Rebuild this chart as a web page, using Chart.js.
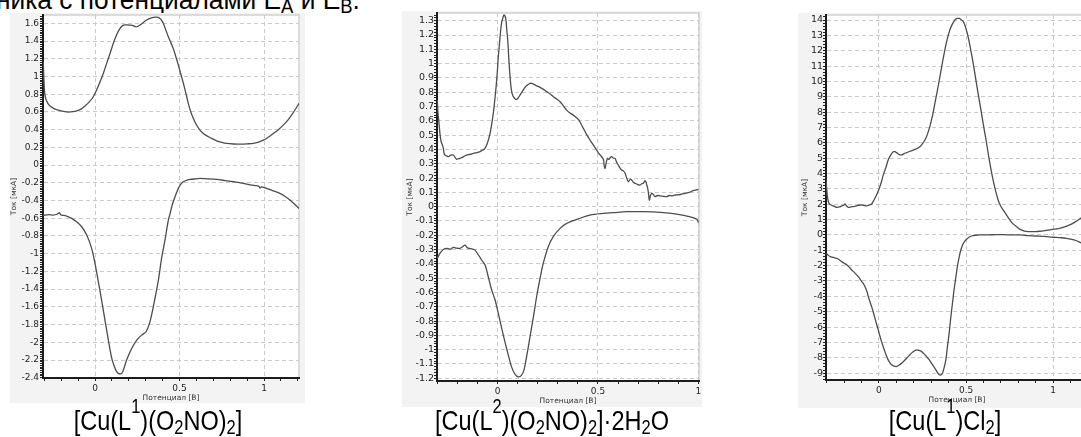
<!DOCTYPE html>
<html lang="ru"><head><meta charset="utf-8">
<title>CV</title>
<script src="https://cdn.jsdelivr.net/npm/chart.js@4.4.1/dist/chart.umd.min.js"></script>
<style>
html,body{margin:0;padding:0;background:#fff;}
body{width:1081px;height:437px;overflow:hidden;position:relative;font-family:"Liberation Sans",Arial,sans-serif;color:#000;}
.panel{position:absolute;background:#f3f3f3;}
.panel canvas{display:block;}
.txt{position:absolute;white-space:nowrap;font-size:28px;line-height:28px;transform:scaleX(0.84);}
.txt sup,.txt sub{font-size:0.7em;vertical-align:0;position:relative;line-height:0;}
.txt sup{top:-0.85em;}
.txt sub{top:0.22em;}
.cap{width:400px;text-align:center;transform-origin:50% 50%;top:407px;}
#hdr{transform:scaleX(0.94);transform-origin:0 0;}
</style></head>
<body>
<div id="hdr" class="txt" style="left:-4px;top:-14px;">ника с потенциалами E<sub>A</sub> и E<sub>B</sub>.</div>

<div class="panel" style="left:10px;top:13px;width:295px;height:390px"><canvas id="c1" width="295" height="390"></canvas></div>
<div class="panel" style="left:402px;top:11px;width:300px;height:396px"><canvas id="c2" width="300" height="396"></canvas></div>
<div class="panel" style="left:798px;top:13px;width:300px;height:395px"><canvas id="c3" width="300" height="395"></canvas></div>

<div class="txt cap" style="left:-42px">[Cu(L<sup>1</sup>)(O<sub>2</sub>NO)<sub>2</sub>]</div>
<div class="txt cap" style="left:352px">[Cu(L<sup>2</sup>)(O<sub>2</sub>NO)<sub>2</sub>]·2H<sub>2</sub>O</div>
<div class="txt cap" style="left:745px">[Cu(L<sup>1</sup>)Cl<sub>2</sub>]</div>

<script>
// ================= DATA =================
// Chart 1: [Cu(L1)(O2NO)2]  — potential (V) / current (µA)
const c1UpE = [-0.306,-0.302,-0.298,-0.292,-0.28,-0.266,-0.24,-0.217,-0.19,-0.158,-0.13,-0.108,-0.08,-0.059,-0.035,-0.01,0.01,0.03,0.05,0.069,0.09,0.108,0.128,0.148,0.168,0.19,0.207,0.225,0.243,0.266,0.286,0.306,0.325,0.345,0.36,0.375,0.39,0.404,0.42,0.434,0.448,0.463,0.478,0.493,0.508,0.523,0.538,0.552,0.567,0.582,0.6,0.621,0.645,0.671,0.695,0.72,0.75,0.779,0.82,0.858,0.9,0.937,0.968,0.996,1.025,1.055,1.085,1.114,1.14,1.163,1.186,1.207];
const c1UpI = [1.166,0.95,0.82,0.753,0.7,0.666,0.635,0.621,0.608,0.598,0.603,0.613,0.635,0.666,0.71,0.771,0.85,0.94,1.04,1.148,1.265,1.373,1.47,1.543,1.58,1.583,1.58,1.575,1.56,1.58,1.61,1.637,1.655,1.667,1.67,1.667,1.645,1.6,1.52,1.448,1.385,1.317,1.225,1.129,1.025,0.922,0.81,0.696,0.6,0.527,0.455,0.395,0.35,0.32,0.295,0.274,0.257,0.245,0.238,0.237,0.24,0.245,0.26,0.282,0.315,0.357,0.4,0.451,0.505,0.564,0.63,0.696];
const c1DnE = [-0.307,-0.296,-0.27,-0.247,-0.225,-0.211,-0.203,-0.197,-0.168,-0.138,-0.109,-0.079,-0.049,-0.02,0,0.02,0.039,0.059,0.079,0.095,0.108,0.128,0.148,0.164,0.187,0.217,0.247,0.276,0.302,0.325,0.349,0.375,0.394,0.414,0.434,0.444,0.454,0.463,0.473,0.483,0.493,0.508,0.523,0.545,0.562,0.6,0.621,0.67,0.72,0.77,0.818,0.86,0.897,0.94,0.97,0.976,0.985,1.015,1.055,1.094,1.125,1.153,1.18,1.207];
const c1DnI = [-0.57,-0.564,-0.56,-0.564,-0.555,-0.538,-0.56,-0.564,-0.575,-0.602,-0.64,-0.696,-0.79,-0.94,-1.11,-1.317,-1.524,-1.75,-1.975,-2.144,-2.238,-2.332,-2.358,-2.332,-2.2,-2.07,-1.975,-1.919,-1.881,-1.769,-1.561,-1.298,-1.053,-0.847,-0.621,-0.55,-0.47,-0.414,-0.36,-0.31,-0.263,-0.215,-0.188,-0.17,-0.162,-0.155,-0.151,-0.155,-0.162,-0.175,-0.188,-0.2,-0.214,-0.23,-0.24,-0.26,-0.245,-0.263,-0.29,-0.32,-0.355,-0.395,-0.44,-0.489];
const c1YTicks = [-2.4,-2.2,-2,-1.8,-1.6,-1.4,-1.2,-1,-0.8,-0.6,-0.4,-0.2,0,0.2,0.4,0.6,0.8,1,1.2,1.4,1.6];
const c1XTicks = [0,0.5,1];

// Chart 2: [Cu(L2)(O2NO)2]·2H2O
const c2UpE = [-0.301,-0.298,-0.294,-0.288,-0.283,-0.279,-0.271,-0.267,-0.263,-0.255,-0.246,-0.235,-0.221,-0.213,-0.205,-0.196,-0.188,-0.17,-0.155,-0.138,-0.121,-0.104,-0.088,-0.075,-0.063,-0.05,-0.038,-0.03,-0.022,-0.015,-0.008,-0.002,0.003,0.009,0.015,0.02,0.025,0.029,0.033,0.037,0.041,0.045,0.05,0.054,0.058,0.062,0.066,0.072,0.078,0.086,0.095,0.103,0.111,0.124,0.136,0.148,0.161,0.17,0.178,0.195,0.211,0.228,0.244,0.26,0.277,0.294,0.311,0.327,0.344,0.36,0.377,0.39,0.402,0.415,0.427,0.443,0.46,0.477,0.493,0.505,0.518,0.527,0.531,0.535,0.54,0.547,0.555,0.562,0.568,0.575,0.585,0.593,0.601,0.61,0.618,0.626,0.635,0.643,0.651,0.66,0.668,0.676,0.685,0.697,0.709,0.718,0.726,0.733,0.739,0.743,0.746,0.751,0.756,0.762,0.768,0.776,0.784,0.796,0.809,0.825,0.842,0.855,0.867,0.88,0.892,0.91,0.934,0.955,0.975,0.99,1.0];
const c2UpI = [0.745,0.66,0.605,0.512,0.46,0.443,0.408,0.37,0.361,0.355,0.35,0.36,0.361,0.345,0.331,0.335,0.338,0.35,0.361,0.365,0.373,0.378,0.385,0.395,0.408,0.45,0.513,0.575,0.652,0.74,0.839,0.94,1.048,1.14,1.235,1.29,1.315,1.335,1.34,1.33,1.305,1.24,1.165,1.07,0.978,0.9,0.839,0.79,0.769,0.755,0.75,0.762,0.78,0.808,0.834,0.85,0.862,0.862,0.857,0.845,0.834,0.82,0.804,0.79,0.769,0.752,0.734,0.705,0.675,0.655,0.64,0.625,0.61,0.58,0.547,0.505,0.466,0.43,0.396,0.37,0.349,0.33,0.285,0.268,0.3,0.338,0.33,0.345,0.35,0.34,0.338,0.31,0.291,0.27,0.256,0.25,0.233,0.2,0.174,0.19,0.186,0.17,0.163,0.155,0.151,0.16,0.163,0.18,0.174,0.15,0.14,0.1,0.046,0.08,0.093,0.085,0.07,0.078,0.075,0.072,0.07,0.078,0.075,0.08,0.082,0.085,0.093,0.1,0.112,0.117,0.121];
const c2DnE = [-0.301,-0.288,-0.271,-0.251,-0.236,-0.221,-0.205,-0.188,-0.175,-0.163,-0.15,-0.138,-0.125,-0.113,-0.096,-0.08,-0.063,-0.047,-0.03,-0.013,0.003,0.02,0.036,0.053,0.069,0.086,0.103,0.119,0.131,0.144,0.161,0.178,0.194,0.211,0.227,0.252,0.277,0.311,0.344,0.394,0.46,0.527,0.577,0.643,0.727,0.81,0.893,0.96,0.993,1.001];
const c2DnI = [-0.362,-0.327,-0.299,-0.292,-0.298,-0.285,-0.29,-0.292,-0.28,-0.269,-0.288,-0.292,-0.297,-0.304,-0.338,-0.373,-0.408,-0.49,-0.583,-0.653,-0.746,-0.851,-0.945,-1.038,-1.12,-1.171,-1.19,-1.178,-1.143,-1.05,-0.91,-0.77,-0.63,-0.502,-0.397,-0.28,-0.21,-0.152,-0.117,-0.089,-0.059,-0.047,-0.042,-0.035,-0.035,-0.04,-0.052,-0.071,-0.089,-0.113];
const c2YTicks = [-1.2,-1.1,-1,-0.9,-0.8,-0.7,-0.6,-0.5,-0.4,-0.3,-0.2,-0.1,0,0.1,0.2,0.3,0.4,0.5,0.6,0.7,0.8,0.9,1,1.1,1.2,1.3];
const c2XTicks = [0,0.5,1];

// Chart 3: [Cu(L1)Cl2]
const c3UpE = [-0.304,-0.3,-0.296,-0.291,-0.287,-0.275,-0.262,-0.243,-0.228,-0.214,-0.2,-0.195,-0.186,-0.176,-0.16,-0.147,-0.128,-0.109,-0.09,-0.071,-0.055,-0.042,-0.032,-0.023,-0.01,0.002,0.015,0.025,0.04,0.053,0.068,0.082,0.092,0.101,0.115,0.13,0.145,0.159,0.178,0.197,0.217,0.235,0.25,0.264,0.278,0.292,0.307,0.321,0.336,0.35,0.364,0.378,0.393,0.407,0.422,0.436,0.45,0.461,0.472,0.484,0.498,0.512,0.526,0.541,0.555,0.569,0.584,0.598,0.613,0.627,0.641,0.655,0.67,0.684,0.698,0.713,0.732,0.751,0.77,0.79,0.808,0.827,0.846,0.866,0.895,0.923,0.952,0.981,1.01,1.038,1.066,1.095,1.127,1.158,1.2];
const c3UpI = [3.69,3.0,2.49,2.2,2.06,1.95,1.89,1.8,1.82,1.89,1.95,2.02,1.88,1.8,1.83,1.85,1.9,1.95,1.93,1.89,1.95,2.02,2.2,2.39,2.7,3.04,3.5,3.91,4.4,4.88,5.22,5.42,5.42,5.36,5.25,5.21,5.3,5.36,5.45,5.53,5.62,5.75,5.95,6.18,6.55,7.05,7.75,8.57,9.45,10.31,11.2,12.04,12.8,13.35,13.75,14.0,14.1,14.1,14.02,13.9,13.5,12.9,12.1,11.18,10.2,9.22,8.25,7.27,6.3,5.32,4.4,3.58,2.85,2.28,1.9,1.63,1.3,0.98,0.72,0.54,0.38,0.28,0.23,0.21,0.22,0.24,0.28,0.33,0.38,0.43,0.52,0.65,0.85,1.09,1.45];
const c3DnE = [-0.304,-0.293,-0.281,-0.262,-0.243,-0.228,-0.214,-0.2,-0.185,-0.171,-0.157,-0.142,-0.128,-0.113,-0.099,-0.09,-0.08,-0.07,-0.061,-0.052,-0.042,-0.032,-0.023,-0.014,-0.004,0.005,0.015,0.025,0.034,0.044,0.053,0.063,0.073,0.087,0.101,0.115,0.13,0.145,0.159,0.173,0.187,0.2,0.216,0.23,0.245,0.259,0.273,0.288,0.302,0.315,0.327,0.337,0.346,0.356,0.365,0.374,0.384,0.393,0.403,0.412,0.422,0.432,0.442,0.451,0.461,0.47,0.48,0.491,0.503,0.517,0.531,0.555,0.579,0.65,0.713,0.76,0.808,0.856,0.904,0.95,0.999,1.04,1.076,1.12,1.158,1.2];
const c3DnI = [-1.19,-1.3,-1.41,-1.46,-1.52,-1.62,-1.74,-1.84,-1.95,-2.1,-2.28,-2.44,-2.6,-2.8,-3.04,-3.15,-3.37,-3.65,-4.02,-4.34,-4.67,-5.05,-5.42,-5.8,-6.18,-6.57,-6.95,-7.3,-7.6,-7.9,-8.14,-8.33,-8.46,-8.55,-8.57,-8.48,-8.36,-8.2,-8.03,-7.86,-7.7,-7.58,-7.49,-7.52,-7.6,-7.75,-7.92,-8.12,-8.36,-8.58,-8.79,-8.98,-9.11,-9.12,-9.0,-8.65,-8.14,-7.3,-6.4,-5.4,-4.45,-3.5,-2.71,-2.0,-1.41,-0.98,-0.65,-0.43,-0.28,-0.15,-0.07,-0.02,0.0,0.01,0.02,0.0,0.0,-0.04,-0.07,-0.1,-0.15,-0.18,-0.22,-0.33,-0.5,-0.72];
const c3YTicks = [-9,-8,-7,-6,-5,-4,-3,-2,-1,0,1,2,3,4,5,6,7,8,9,10,11,12,13,14];
const c3XTicks = [0,0.5,1];

const yTitle = 'Ток [мкА]';
const xTitle = 'Потенциал [В]';

// ================= RENDERING =================
const FONT = "'DejaVu Sans', Verdana, sans-serif";
const framePlugin = {
  id: 'frame',
  beforeDraw(chart) {
    const a = chart.chartArea, ctx = chart.ctx;
    ctx.save();
    ctx.fillStyle = '#ffffff';
    ctx.fillRect(a.left, a.top, a.right - a.left, a.bottom - a.top);
    ctx.strokeStyle = '#d2d2d2';
    ctx.lineWidth = 1.5;
    ctx.beginPath();
    ctx.moveTo(a.left, a.top); ctx.lineTo(a.right, a.top); ctx.lineTo(a.right, a.bottom);
    ctx.stroke();
    ctx.restore();
  }
};
const isMaj = (v, majors) => majors.some(m => Math.abs(m - v) < 1e-6);
const fmt = v => String(+v.toFixed(3));
const pts = (E, I) => E.map((e, k) => ({x: e, y: I[k]}));

function axis(o) {
  return {
    type: 'linear', position: o.pos, min: o.min, max: o.max, bounds: 'data',
    afterBuildTicks: s => {
      const t = [];
      const k0 = Math.ceil(o.min / o.step - 1e-6), k1 = Math.floor(o.max / o.step + 1e-6);
      for (let k = k0; k <= k1; k++) t.push({value: +(k * o.step).toFixed(6)});
      s.ticks = t;
    },
    afterFit: s => {
      if (o.pos === 'left') { s.width = o.fit; s.paddingTop = 0; s.paddingBottom = 0; }
      else { s.height = o.fit; s.paddingLeft = 0; s.paddingRight = 0; }
    },
    ticks: {
      autoSkip: false, maxRotation: 0, minRotation: 0, padding: o.tpad, color: '#1f1f1f',
      font: {family: FONT, size: o.fs},
      callback: v => isMaj(v, o.majors) ? fmt(v) : ''
    },
    grid: {
      drawOnChartArea: true, drawTicks: true,
      color: c => (c.tick && isMaj(c.tick.value, o.majors)) ? '#c9c9c9' : 'rgba(0,0,0,0)',
      lineWidth: 1, tickLength: o.tl, tickWidth: 1, tickColor: '#222', tickBorderDash: []
    },
    border: {display: true, color: '#1c1c1c', width: 2, dash: [4, 3]},
    title: {display: true, text: o.title, color: '#333', font: {family: FONT, size: 7.5}, padding: o.titlePad}
  };
}

function makeCV(id, s) {
  return new Chart(document.getElementById(id), {
    type: 'scatter',
    data: {
      datasets: [
        {data: pts(s.upE, s.upI)},
        {data: pts(s.dnE, s.dnI)}
      ]
    },
    options: {
      responsive: false, animation: false, devicePixelRatio: 1,
      showLine: true,
      elements: {
        point: {radius: 0, hoverRadius: 0},
        line: {borderColor: '#4d4d4d', borderWidth: 1.3, tension: 0.3, fill: false}
      },
      layout: {autoPadding: false, padding: s.pad},
      plugins: {legend: {display: false}, tooltip: {enabled: false}},
      events: [],
      scales: {x: axis(s.x), y: axis(s.y)}
    },
    plugins: [framePlugin]
  });
}

makeCV('c1', {
  upE: c1UpE, upI: c1UpI, dnE: c1DnE, dnI: c1DnI,
  pad: {left: 0, top: 2, right: 6, bottom: 0},
  x: {pos: 'bottom', min: -0.3077, max: 1.2071, step: 0.1, majors: c1XTicks, fs: 9, tl: 3, tpad: 2, fit: 25, title: xTitle, titlePad: {top: 0, bottom: 0}},
  y: {pos: 'left', min: -2.403, max: 1.694, step: 0.02, majors: c1YTicks, fs: 9, tl: 3, tpad: 1, fit: 33, title: yTitle, titlePad: {top: 0, bottom: 0}}
});
makeCV('c2', {
  upE: c2UpE, upI: c2UpI, dnE: c2DnE, dnI: c2DnI,
  pad: {left: 0, top: 2, right: 3, bottom: 0},
  x: {pos: 'bottom', min: -0.3026, max: 1.0035, step: 0.1, majors: c2XTicks, fs: 9, tl: 3, tpad: 2, fit: 26, title: xTitle, titlePad: {top: 0, bottom: 1.5}},
  y: {pos: 'left', min: -1.219, max: 1.354, step: 0.02, majors: c2YTicks, fs: 9.5, tl: 3, tpad: 0, fit: 35, title: yTitle, titlePad: {top: 3.5, bottom: 0}}
});
makeCV('c3', {
  upE: c3UpE, upI: c3UpI, dnE: c3DnE, dnI: c3DnI,
  pad: {left: 0, top: 2, right: 10, bottom: 0},
  x: {pos: 'bottom', min: -0.304, max: 1.2, step: 0.1, majors: c3XTicks, fs: 9, tl: 3, tpad: 2, fit: 28, title: xTitle, titlePad: {top: 0, bottom: 3.5}},
  y: {pos: 'left', min: -9.45, max: 14.326, step: 0.2, majors: c3YTicks, fs: 9.5, tl: 3, tpad: 0, fit: 28, title: yTitle, titlePad: {top: 2.5, bottom: 0}}
});
</script>
</body></html>
